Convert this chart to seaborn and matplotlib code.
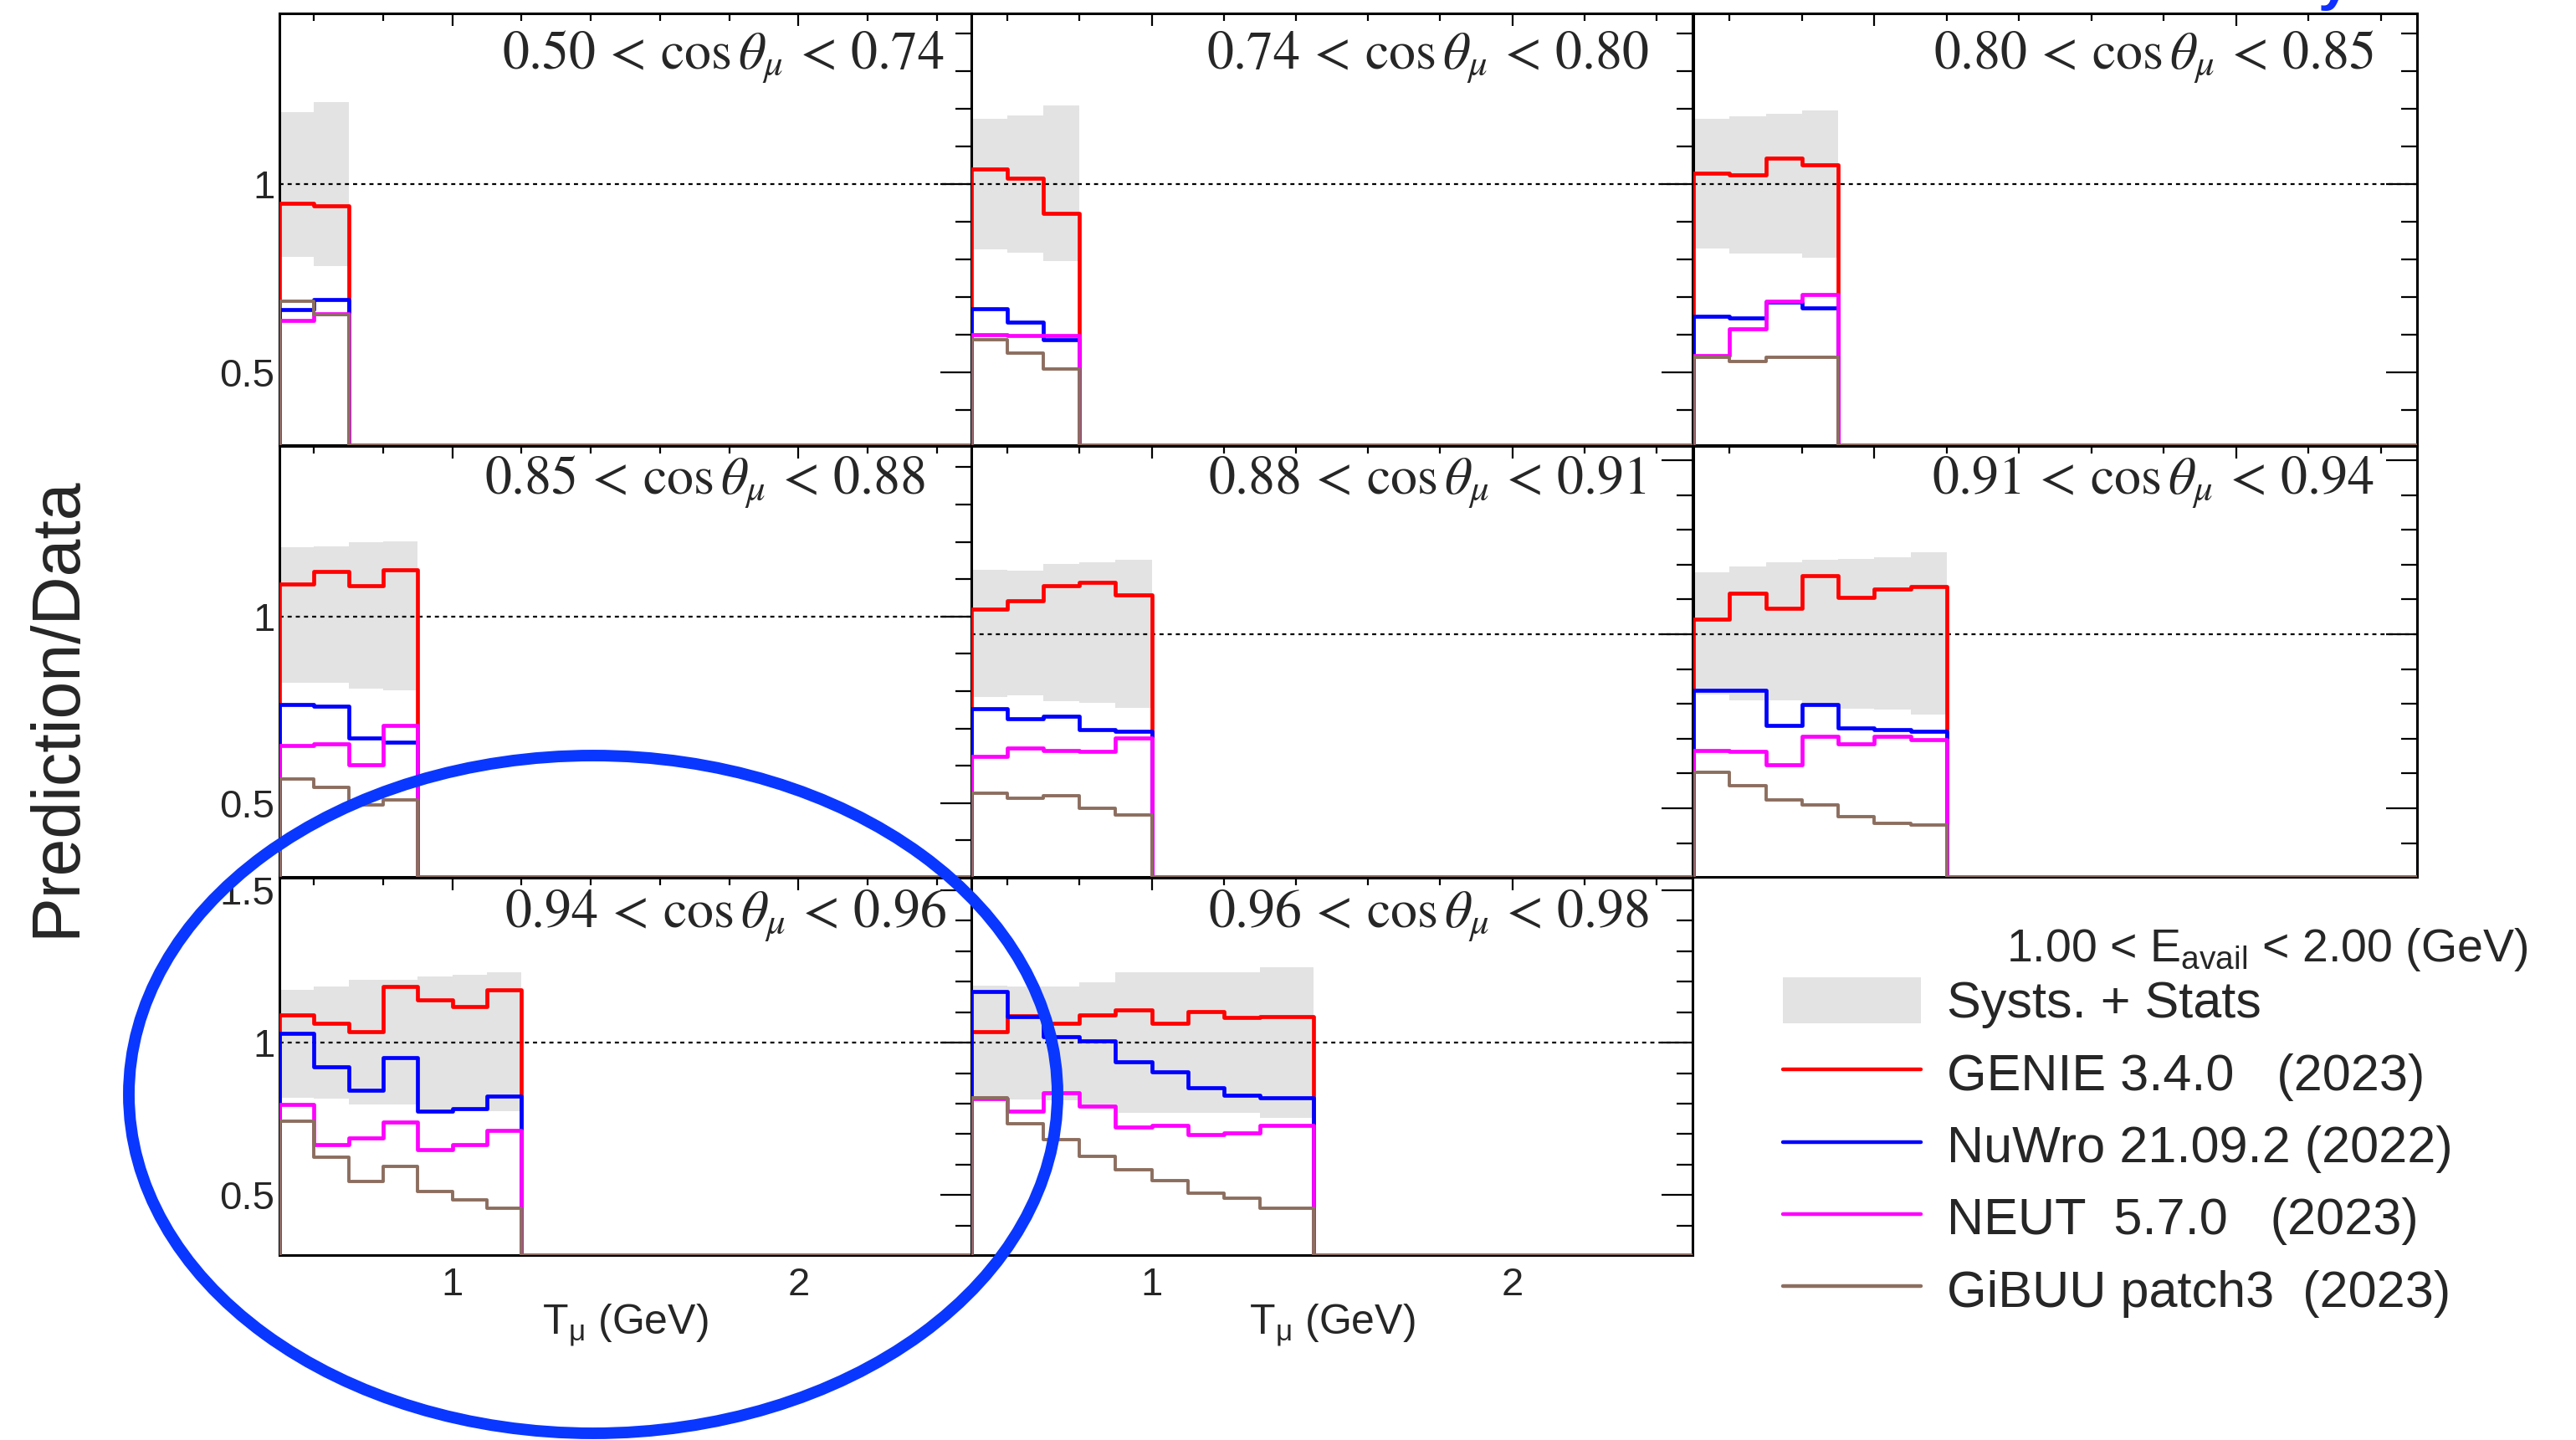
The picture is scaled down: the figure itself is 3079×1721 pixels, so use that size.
import numpy as np
import matplotlib
matplotlib.use("Agg")
import matplotlib.pyplot as plt
from matplotlib.patches import Patch, Ellipse
from matplotlib.lines import Line2D
from matplotlib.ticker import MultipleLocator, FuncFormatter
import seaborn as sns

# ---------------- data (ratio Prediction/Data vs T_mu in GeV) ----------------
T_MAX = 2.5
cos_lo = [0.50, 0.74, 0.80, 0.85, 0.88, 0.91, 0.94, 0.96]
cos_hi = [0.74, 0.80, 0.85, 0.88, 0.91, 0.94, 0.96, 0.98]

edges_p1 = [0.5, 0.6, 0.7]
band_hi_p1 = [1.190, 1.217]
band_lo_p1 = [0.807, 0.782]
genie_p1 = [0.948, 0.942]
nuwro_p1 = [0.667, 0.694]
neut_p1 = [0.639, 0.656]
gibuu_p1 = [0.689, 0.653]

edges_p2 = [0.5, 0.6, 0.7, 0.8]
band_hi_p2 = [1.173, 1.183, 1.209]
band_lo_p2 = [0.827, 0.817, 0.795]
genie_p2 = [1.041, 1.016, 0.923]
nuwro_p2 = [0.668, 0.633, 0.587]
neut_p2 = [0.600, 0.597, 0.599]
gibuu_p2 = [0.587, 0.552, 0.508]

edges_p3 = [0.5, 0.6, 0.7, 0.8, 0.9]
band_hi_p3 = [1.173, 1.179, 1.187, 1.196]
band_lo_p3 = [0.829, 0.816, 0.816, 0.804]
genie_p3 = [1.028, 1.024, 1.069, 1.052]
nuwro_p3 = [0.649, 0.644, 0.686, 0.671]
neut_p3 = [0.545, 0.615, 0.688, 0.706]
gibuu_p3 = [0.540, 0.529, 0.540, 0.540]

edges_p4 = [0.5, 0.6, 0.7, 0.8, 0.9]
band_hi_p4 = [1.185, 1.187, 1.198, 1.202]
band_lo_p4 = [0.823, 0.823, 0.806, 0.802]
genie_p4 = [1.087, 1.120, 1.083, 1.125]
nuwro_p4 = [0.763, 0.759, 0.674, 0.664]
neut_p4 = [0.655, 0.659, 0.603, 0.708]
gibuu_p4 = [0.564, 0.543, 0.495, 0.508]

edges_p5 = [0.5, 0.6, 0.7, 0.8, 0.9, 1.0]
band_hi_p5 = [1.186, 1.183, 1.202, 1.208, 1.215]
band_lo_p5 = [0.820, 0.824, 0.807, 0.802, 0.788]
genie_p5 = [1.072, 1.097, 1.140, 1.149, 1.112]
nuwro_p5 = [0.787, 0.758, 0.764, 0.725, 0.721]
neut_p5 = [0.648, 0.673, 0.667, 0.663, 0.702]
gibuu_p5 = [0.543, 0.529, 0.535, 0.500, 0.481]

edges_p6 = [0.5, 0.6, 0.7, 0.8, 0.9, 1.0, 1.1, 1.2]
band_hi_p6 = [1.177, 1.196, 1.207, 1.215, 1.217, 1.221, 1.235]
band_lo_p6 = [0.828, 0.810, 0.810, 0.795, 0.787, 0.783, 0.769]
genie_p6 = [1.043, 1.117, 1.074, 1.169, 1.107, 1.130, 1.136]
nuwro_p6 = [0.839, 0.839, 0.739, 0.797, 0.731, 0.726, 0.721]
neut_p6 = [0.667, 0.663, 0.626, 0.707, 0.686, 0.707, 0.698]
gibuu_p6 = [0.603, 0.564, 0.525, 0.510, 0.477, 0.456, 0.452]

edges_p7 = [0.5, 0.6, 0.7, 0.8, 0.9, 1.0, 1.1, 1.2]
band_hi_p7 = [1.172, 1.183, 1.205, 1.205, 1.218, 1.223, 1.231]
band_lo_p7 = [0.819, 0.816, 0.796, 0.796, 0.774, 0.774, 0.774]
genie_p7 = [1.090, 1.063, 1.036, 1.183, 1.139, 1.117, 1.174]
nuwro_p7 = [1.031, 0.922, 0.845, 0.950, 0.774, 0.783, 0.824]
neut_p7 = [0.796, 0.666, 0.688, 0.740, 0.649, 0.666, 0.713]
gibuu_p7 = [0.742, 0.623, 0.544, 0.595, 0.512, 0.485, 0.458]

edges_p8 = [0.5, 0.6, 0.7, 0.8, 0.9, 1.0, 1.1, 1.2, 1.3, 1.45]
band_hi_p8 = [1.188, 1.183, 1.183, 1.198, 1.230, 1.230, 1.230, 1.230, 1.247]
band_lo_p8 = [0.813, 0.813, 0.811, 0.795, 0.770, 0.770, 0.770, 0.770, 0.752]
genie_p8 = [1.036, 1.087, 1.064, 1.090, 1.108, 1.064, 1.103, 1.082, 1.085]
nuwro_p8 = [1.169, 1.085, 1.020, 1.005, 0.938, 0.904, 0.852, 0.828, 0.819]
neut_p8 = [0.816, 0.774, 0.835, 0.791, 0.723, 0.728, 0.698, 0.703, 0.728]
gibuu_p8 = [0.819, 0.734, 0.681, 0.626, 0.583, 0.546, 0.507, 0.489, 0.458]

model_labels = ["GENIE 3.4.0   (2023)", "NuWro 21.09.2 (2022)",
                "NEUT  5.7.0   (2023)", "GiBUU patch3  (2023)"]
band_label = "Systs. + Stats"
eavail_text = r"1.00 < E$_{\mathregular{avail}}$ < 2.00 (GeV)"

panels = [
    (edges_p1, band_lo_p1, band_hi_p1, genie_p1, nuwro_p1, neut_p1, gibuu_p1),
    (edges_p2, band_lo_p2, band_hi_p2, genie_p2, nuwro_p2, neut_p2, gibuu_p2),
    (edges_p3, band_lo_p3, band_hi_p3, genie_p3, nuwro_p3, neut_p3, gibuu_p3),
    (edges_p4, band_lo_p4, band_hi_p4, genie_p4, nuwro_p4, neut_p4, gibuu_p4),
    (edges_p5, band_lo_p5, band_hi_p5, genie_p5, nuwro_p5, neut_p5, gibuu_p5),
    (edges_p6, band_lo_p6, band_hi_p6, genie_p6, nuwro_p6, neut_p6, gibuu_p6),
    (edges_p7, band_lo_p7, band_hi_p7, genie_p7, nuwro_p7, neut_p7, gibuu_p7),
    (edges_p8, band_lo_p8, band_hi_p8, genie_p8, nuwro_p8, neut_p8, gibuu_p8),
]

# ---------------- style / layout ----------------
sns.set_theme(style="white")
plt.rcParams["font.family"] = ["Liberation Sans", "DejaVu Sans"]
plt.rcParams["axes.edgecolor"] = "black"
plt.rcParams["axes.linewidth"] = 2.2

W, H = 3079, 1721
BAND = "#e3e3e3"
COLORS = ["#ff0000", "#0000ff", "#ff00ff", "#8c6e5f"]
LWS = [3.4, 3.4, 3.4, 2.8]

COL_X = [(334, 1161), (1161, 2023), (2024, 2889)]
ROW_Y = [(16, 532), (533, 1048), (1049, 1500)]
GRID = [(0, 0), (0, 1), (0, 2), (1, 0), (1, 1), (1, 2), (2, 0), (2, 1)]
YLIMS = [(0.307, 1.453)] * 3 + [(0.302, 1.457)] + [(0.303, 1.541)] * 4
TITLE_GAP = [32, 52, 51, 55, 55, 51, 30, 52]
TITLE_BASE = [67, 67, 67, 58, 58, 58, 60, 60]

fig = plt.figure(figsize=(W / 100, H / 100), dpi=100)
fig.patch.set_facecolor("white")

fmt = FuncFormatter(lambda v, p: f"{v:g}")

for i, (edges, blo, bhi, g, nw, ne, gb) in enumerate(panels):
    r, c = GRID[i]
    x0, x1 = COL_X[c]
    y0, y1 = ROW_Y[r]
    ax = fig.add_axes([x0 / W, 1 - y1 / H, (x1 - x0) / W, (y1 - y0) / H])
    ax.set_facecolor("white")
    ylo, yhi = YLIMS[i]
    e = np.asarray(edges, float)
    ax.stairs(np.asarray(bhi), e, baseline=np.asarray(blo), fill=True,
              color=BAND, lw=0, zorder=1)
    ax.axhline(1.0, color="black", ls=(0, (2.2, 2.2)), lw=1.6, zorder=2)
    ext = np.append(e, T_MAX)
    for vals, col, lw in zip([g, nw, ne, gb], COLORS, LWS):
        v = np.maximum(np.append(np.asarray(vals, float), 0.0), ylo)
        xs = np.repeat(ext, 2)
        ys = np.concatenate([[ylo], np.repeat(v, 2), [ylo]])
        sns.lineplot(x=xs, y=ys, ax=ax, color=col, lw=lw, estimator=None,
                     sort=False, legend=False, zorder=3)
    ax.set_xlim(0.5, T_MAX)
    ax.set_ylim(ylo, yhi)
    ax.set_xlabel("")
    ax.set_ylabel("")
    ax.xaxis.set_major_locator(MultipleLocator(1))
    ax.xaxis.set_minor_locator(MultipleLocator(0.2))
    ax.yaxis.set_major_locator(MultipleLocator(0.5))
    ax.yaxis.set_minor_locator(MultipleLocator(0.1))
    ax.xaxis.set_major_formatter(fmt)
    ax.yaxis.set_major_formatter(fmt)
    ax.tick_params(axis="both", which="both", direction="in", top=True,
                   right=True, color="black", width=1.6, labelsize=34)
    ax.tick_params(axis="y", which="major", length=27, pad=4)
    ax.tick_params(axis="y", which="minor", length=13.5)
    ax.tick_params(axis="x", which="major", length=11, pad=10)
    ax.tick_params(axis="x", which="minor", length=6.5)
    ax.tick_params(axis="y", labelleft=(c == 0))
    ax.tick_params(axis="x", labelbottom=(r == 2))
    for s in ax.spines.values():
        s.set_linewidth(2.2)
        s.set_color("black")
        s.set_visible(True)
    if r == 2:
        ax.set_xlabel(r"T$_{\mathregular{μ}}$ (GeV)", fontsize=36)
        ax.xaxis.set_label_coords(0.5, -0.125)
    wpx, hpx = x1 - x0, y1 - y0
    ax.text(1 - TITLE_GAP[i] / wpx, 1 - TITLE_BASE[i] / hpx,
            rf"${cos_lo[i]:.2f} \,<\, \cos\theta_{{\mu}} \,<\, {cos_hi[i]:.2f}$",
            transform=ax.transAxes, ha="right", va="baseline", fontsize=46,
            math_fontfamily="stix", zorder=5)

# y-axis title
fig.text(68 / W, 1 - 845 / H, "Prediction/Data", rotation=90, ha="center",
         va="center", fontsize=58)

# legend area
fig.text(2398 / W, 1 - 1149 / H, eavail_text, ha="left", va="baseline",
         fontsize=40)
handles = [Patch(facecolor=BAND, edgecolor="none", label=band_label)]
for lab, col in zip(model_labels, COLORS):
    handles.append(Line2D([], [], color=col, lw=3.2, label=lab))
fig.legend(handles=handles, loc="upper left",
           bbox_to_anchor=(2131 / W, 1 - 1168 / H), frameon=False,
           fontsize=44, handlelength=2.7, handleheight=1.0,
           handletextpad=0.5, labelspacing=0.41, borderpad=0,
           borderaxespad=0)

# blue annotation ellipse
fig.add_artist(Ellipse((709 / W, 1 - 1308 / H), 1110 / W, 810 / H,
                       transform=fig.transFigure, fill=False,
                       ec="#0a37ff", lw=10, zorder=10))

# blue header text, cut off at the top edge as in the original
fig.text(2810 / W, 1 + 1 / H, "MINERvA Preliminary", color="#1030ff",
         fontsize=50, fontweight="bold", ha="right", va="baseline")

fig.savefig("out.png", dpi=100, facecolor="white")
